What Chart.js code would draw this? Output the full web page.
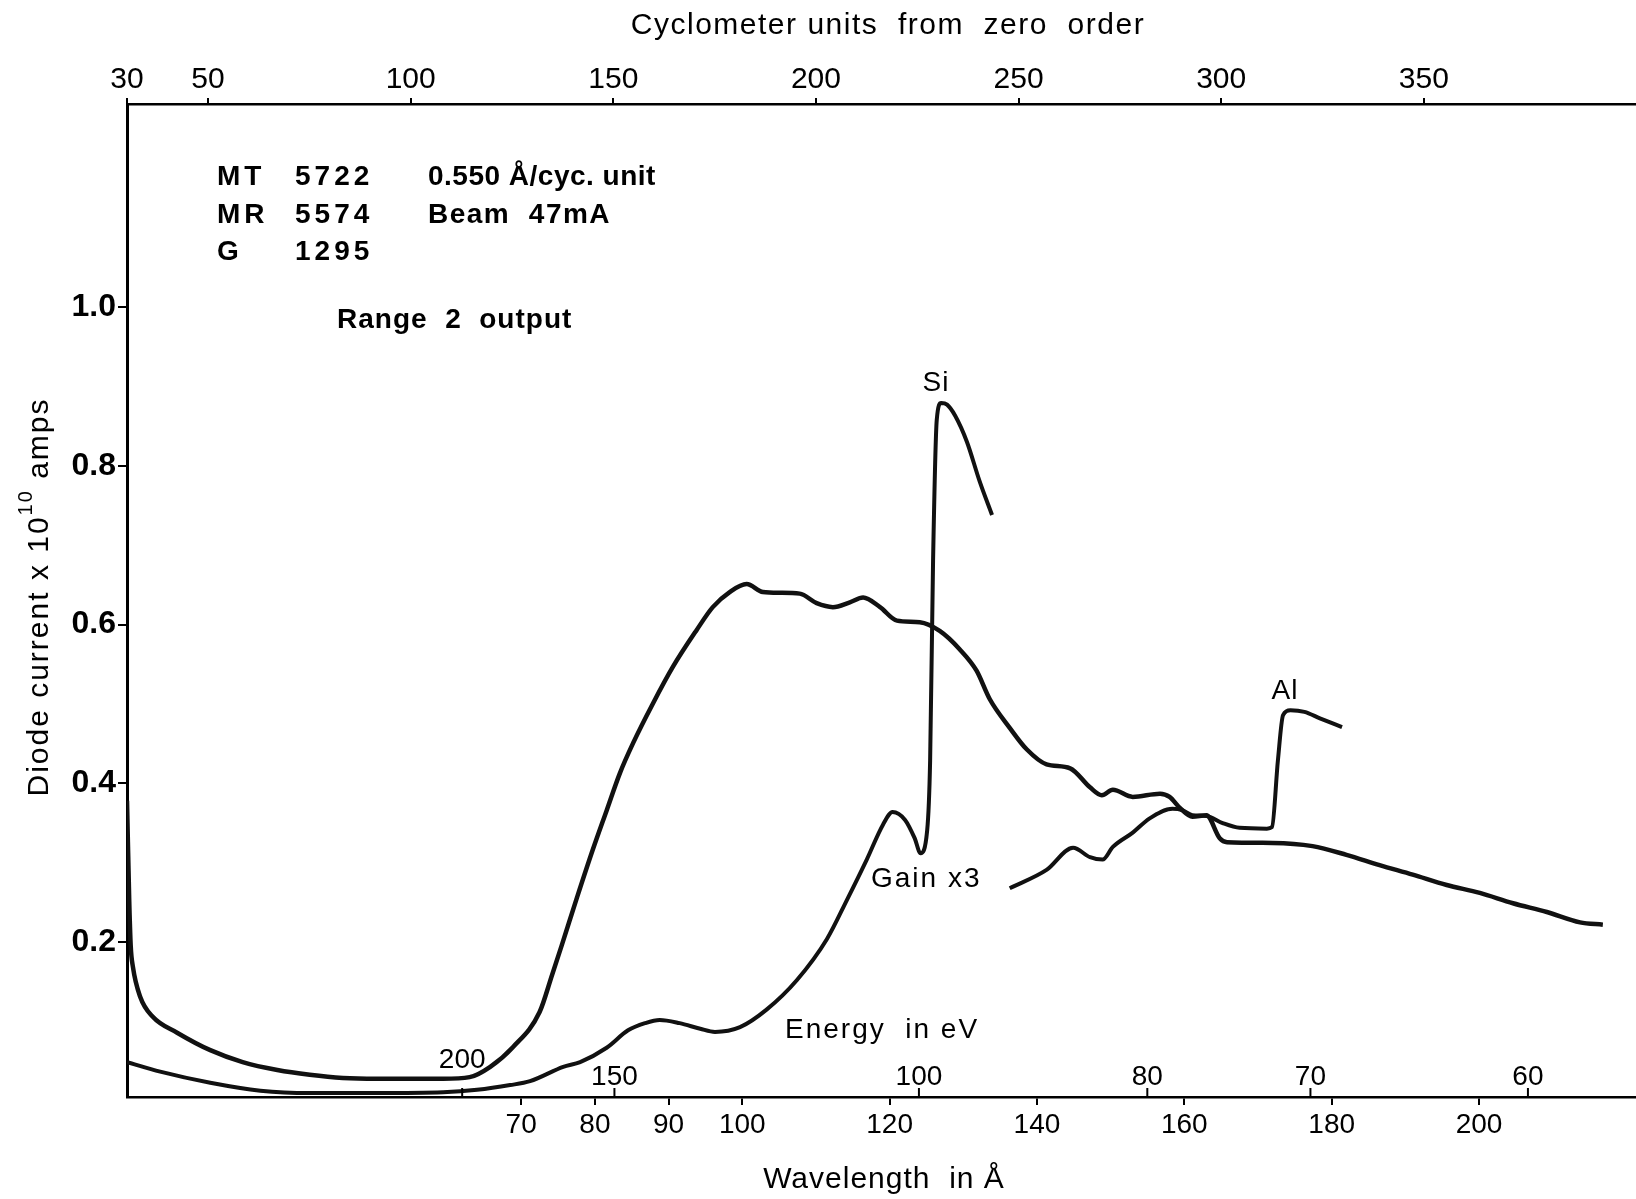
<!DOCTYPE html>
<html lang="en">
<head>
<meta charset="UTF-8" />
<title>Diode current vs wavelength</title>
<script src="https://cdn.jsdelivr.net/npm/chart.js"></script>
<style>
  html, body { margin: 0; padding: 0; background: #fff; }
  #wrap { width: 1636px; height: 1199px; }
</style>
</head>
<body>
<div id="wrap"><canvas id="diodeChart" width="1636" height="1199"></canvas></div>
<script>
// wavelength (Å) and diode current (x 10^-10 A)
const mainWl = [16.5, 16.8, 17.0, 17.3, 18.3, 20.0, 23.3, 27.8, 32.2, 36.9, 41.3, 45.8, 50.4, 54.9, 59.4,
  63.0, 65.8, 68.9, 72.5, 74.2, 75.5, 77.6, 79.7, 81.6, 83.4, 85.2, 87.9, 90.6, 93.8, 96.0,
  98.3, 100.6, 102.8, 105.1, 107.8, 110.1, 112.3, 114.6, 116.4, 118.7, 121.0, 124.1, 126.8, 129.5, 131.8,
  133.6, 136.3, 138.6, 141.3, 144.5, 147.2, 148.8, 150.3, 153.0, 156.7, 158.0, 159.4, 161.1, 163.0, 164.8,
  165.8, 172.0, 177.4, 182.0, 186.5, 191.0, 195.6, 200.1, 204.6, 209.2, 213.7, 216.8];
const mainCur = [0.378, 0.253, 0.196, 0.169, 0.131, 0.106, 0.086, 0.064, 0.049, 0.039, 0.033, 0.029, 0.028, 0.028, 0.028,
  0.030, 0.043, 0.068, 0.112, 0.159, 0.196, 0.257, 0.316, 0.366, 0.413, 0.451, 0.501, 0.547, 0.593, 0.622,
  0.641, 0.651, 0.641, 0.640, 0.639, 0.627, 0.622, 0.628, 0.634, 0.622, 0.605, 0.603, 0.592, 0.569, 0.542,
  0.506, 0.470, 0.443, 0.424, 0.419, 0.395, 0.385, 0.392, 0.383, 0.387, 0.383, 0.369, 0.358, 0.360, 0.331,
  0.326, 0.325, 0.321, 0.310, 0.297, 0.285, 0.272, 0.262, 0.249, 0.238, 0.225, 0.222];

// gain x3 trace; the null is where the pen was lifted
const gainWl = [16.5, 21.0, 27.8, 34.6, 41.3, 50.4, 59.4, 64.0, 68.5, 71.2, 75.7, 78.0, 81.6, 84.5, 86.8,
  88.8, 91.5, 94.3, 96.3, 99.7, 103.3, 107.4, 111.5, 114.2, 116.9, 119.1, 120.4, 122.1, 123.4, 124.2,
  125.1, 125.5, 125.9, 126.4, 127.0, 127.8, 128.9, 130.5, 132.2, 133.9, 135.0,
  136.3, 141.3, 144.9, 147.2, 148.9, 150.3, 153.0, 155.3, 158.4, 159.8, 161.1, 163.0, 165.2, 167.5, 171.2,
  171.9, 172.7, 173.4, 174.4, 176.3, 178.4, 181.4];
const gainCur = [0.049, 0.037, 0.023, 0.013, 0.010, 0.010, 0.011, 0.014, 0.020, 0.025, 0.043, 0.049, 0.067, 0.089, 0.098,
  0.102, 0.098, 0.091, 0.087, 0.093, 0.115, 0.152, 0.204, 0.253, 0.304, 0.348, 0.364, 0.354, 0.331, 0.312,
  0.341, 0.429, 0.681, 0.858, 0.879, 0.877, 0.863, 0.830, 0.781, 0.738, null,
  0.268, 0.291, 0.319, 0.307, 0.304, 0.320, 0.338, 0.356, 0.368, 0.366, 0.360, 0.359, 0.350, 0.344, 0.343,
  0.345, 0.429, 0.486, 0.492, 0.490, 0.482, 0.471];

const wlTicks = [70, 80, 90, 100, 120, 140, 160, 180, 200];
const cycTicks = [30, 50, 100, 150, 200, 250, 300, 350];
const currentTicks = [0.2, 0.4, 0.6, 0.8, 1.0];
const energyTicks = [200, 150, 100, 80, 70, 60];

const ANG_PER_CYC = 0.55;   // Å per cyclometer unit
const HC = 12398;           // eV·Å
const WL_MIN = 30 * ANG_PER_CYC, WL_MAX = 221.3;
const FAMILY = '"Liberation Sans", Arial, Helvetica, sans-serif';

Chart.defaults.font.family = FAMILY;
Chart.defaults.color = '#000';

function put(ctx, str, x, y, font, spacing, align) {
  ctx.font = font + ' ' + FAMILY;
  ctx.letterSpacing = (spacing || 0) + 'px';
  ctx.textAlign = align || 'left';
  ctx.textBaseline = 'middle';
  ctx.fillText(str, x, y);
}

const annotate = {
  id: 'annotate',
  afterDraw(chart) {
    const ctx = chart.ctx;
    const xs = chart.scales.x;
    const base = chart.chartArea.bottom;
    ctx.save();
    ctx.fillStyle = '#000';
    ctx.strokeStyle = '#000';

    // energy scale marked inside the plot, along the wavelength axis
    ctx.lineWidth = 2;
    energyTicks.forEach((e, i) => {
      const px = xs.getPixelForValue(HC / e);
      ctx.beginPath();
      ctx.moveTo(px, base);
      ctx.lineTo(px, base - 9);
      ctx.stroke();
      put(ctx, String(e), px, i === 0 ? base - 37 : base - 20, '28px', 0, 'center');
    });
    put(ctx, 'Energy  in eV', 785, 1030, '28px', 2);

    // run notes
    put(ctx, 'MT', 217, 177, 'bold 28px', 4);
    put(ctx, '5722', 295, 177, 'bold 28px', 4);
    put(ctx, '0.550 Å/cyc. unit', 428, 177, 'bold 28px', 0.5);
    put(ctx, 'MR', 217, 215, 'bold 28px', 4);
    put(ctx, '5574', 295, 215, 'bold 28px', 4);
    put(ctx, 'Beam  47mA', 428, 215, 'bold 28px', 1.5);
    put(ctx, 'G', 217, 252, 'bold 28px', 4);
    put(ctx, '1295', 295, 252, 'bold 28px', 4);
    put(ctx, 'Range  2  output', 337, 320, 'bold 28px', 1);

    put(ctx, 'Si', 936, 383, '28px', 1, 'center');
    put(ctx, 'Al', 1285, 691, '28px', 1, 'center');
    put(ctx, 'Gain x3', 871, 879, '28px', 2);

    // axis titles
    put(ctx, 'Cyclometer units  from  zero  order', 888, 26, '30px', 1.5, 'center');
    put(ctx, 'Wavelength  in Å', 884, 1180, '30px', 1, 'center');

    // rotated y title with superscript exponent
    ctx.translate(40, 597);
    ctx.rotate(-Math.PI / 2);
    const a = 'Diode current x 10', b = '10', c = ' amps';
    ctx.letterSpacing = '2px';
    ctx.font = '30px ' + FAMILY;
    const wa = ctx.measureText(a).width, wc = ctx.measureText(c).width;
    ctx.font = '20px ' + FAMILY;
    const wb = ctx.measureText(b).width;
    let cx = -(wa + wb + wc) / 2;
    put(ctx, a, cx, 0, '30px', 2);
    put(ctx, b, cx + wa, -14, '20px', 2);
    put(ctx, c, cx + wa + wb, 0, '30px', 2);
    ctx.restore();
  }
};

const tickGrid = (len) => ({ drawOnChartArea: false, drawTicks: true, tickLength: len, color: '#000', lineWidth: 2 });

new Chart(document.getElementById('diodeChart'), {
  type: 'line',
  data: {
    datasets: [
      {
        label: 'Range 2 output',
        data: mainWl.map((w, i) => ({ x: w, y: mainCur[i] })),
        borderColor: '#111',
        borderWidth: 4.5,
        pointRadius: 0,
        fill: false,
        cubicInterpolationMode: 'monotone',
        xAxisID: 'x',
        yAxisID: 'y'
      },
      {
        label: 'Gain x3',
        data: gainWl.map((w, i) => ({ x: w, y: gainCur[i] })),
        borderColor: '#111',
        borderWidth: 4,
        pointRadius: 0,
        fill: false,
        spanGaps: false,
        cubicInterpolationMode: 'monotone',
        xAxisID: 'x',
        yAxisID: 'y'
      }
    ]
  },
  options: {
    responsive: false,
    devicePixelRatio: 1,
    animation: false,
    layout: { padding: 0, autoPadding: false },
    plugins: { legend: { display: false }, tooltip: { enabled: false } },
    scales: {
      x: {
        type: 'linear',
        position: 'bottom',
        min: WL_MIN,
        max: WL_MAX,
        afterBuildTicks: s => { s.ticks = wlTicks.map(v => ({ value: v })); },
        afterFit: s => { s.height = 102; },
        grid: tickGrid(8),
        border: { display: true, color: '#000', width: 2.5 },
        ticks: { font: { size: 28 }, padding: 3, maxRotation: 0, callback: v => String(v) }
      },
      x2: {
        type: 'linear',
        position: 'top',
        min: 30,
        max: WL_MAX / ANG_PER_CYC,
        afterBuildTicks: s => { s.ticks = cycTicks.map(v => ({ value: v })); },
        afterFit: s => { s.height = 104; },
        grid: tickGrid(6),
        border: { display: true, color: '#000', width: 2.5 },
        ticks: { font: { size: 30 }, padding: 0, maxRotation: 0, callback: v => String(v) }
      },
      y: {
        type: 'linear',
        position: 'left',
        min: 0.005,
        max: 1.2557,
        afterBuildTicks: s => { s.ticks = currentTicks.map(v => ({ value: v })); },
        afterFit: s => { s.width = 127; },
        grid: tickGrid(9),
        border: { display: true, color: '#000', width: 3 },
        ticks: { font: { size: 32, weight: 'bold' }, padding: 2, callback: v => v.toFixed(1) }
      }
    }
  },
  plugins: [annotate]
});
</script>
</body>
</html>
